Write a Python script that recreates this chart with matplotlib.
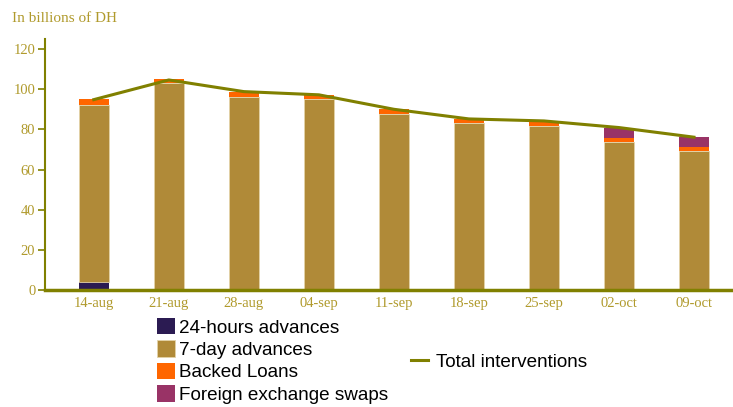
import matplotlib.pyplot as plt
from matplotlib.patches import Patch
from matplotlib.lines import Line2D
import numpy as np

# weekly liquidity injections, billions of DH
dates = ["14-aug", "21-aug", "28-aug", "04-sep", "11-sep", "18-sep", "25-sep", "02-oct", "09-oct"]
adv_24h = [4.2, 0, 0, 0, 0, 0, 0, 0, 0]
adv_7d = [88.1, 103.0, 96.3, 95.0, 87.8, 83.1, 81.9, 73.6, 69.3]
backed_loans = [2.6, 1.9, 2.5, 2.2, 2.2, 2.1, 2.3, 2.3, 2.0]
fx_swaps = [0, 0, 0, 0, 0, 0, 0, 5.0, 4.8]
total = [94.8, 104.6, 98.8, 97.2, 90.0, 85.2, 84.2, 80.9, 76.1]

c_24h = "#2b1b52"
c_7d = "#b08a38"
c_bl = "#ff6600"
c_fx = "#993366"
olive = "#808000"
txt = "#b09a2c"

fig = plt.figure(figsize=(7.33, 4.07), dpi=100)
ax = fig.add_axes([45 / 733, 1 - 290 / 407, 1 - 45 / 733, (290 - 39) / 407])

x = np.arange(len(dates))
w = 0.4
b1 = np.array(adv_24h)
b2 = b1 + np.array(adv_7d)
b3 = b2 + np.array(backed_loans)
ax.bar(x, adv_24h, w, color=c_24h, linewidth=0)
ax.bar(x, adv_7d, w, bottom=b1, color=c_7d, edgecolor="#e3d3a8", linewidth=0.6)
ax.bar(x, backed_loans, w, bottom=b2, color=c_bl, linewidth=0)
ax.bar(x, fx_swaps, w, bottom=b3, color=c_fx, linewidth=0)
ax.plot(x, total, color=olive, linewidth=2.2, zorder=5)

ax.set_xlim(-0.65, 8.52)
ax.set_ylim(0, 125)
ax.set_yticks(range(0, 121, 20))
ax.set_xticks(x)
ax.set_xticklabels(dates)

for s in ["top", "right"]:
    ax.spines[s].set_visible(False)
ax.spines["left"].set_color(olive)
ax.spines["left"].set_linewidth(1.5)
ax.spines["bottom"].set_color(olive)
ax.spines["bottom"].set_linewidth(2.5)
ax.tick_params(axis="y", colors=olive, length=5, width=1.2, labelcolor=txt, labelsize=10.5, pad=2)
ax.tick_params(axis="x", length=0, labelcolor=txt, labelsize=10.5, pad=5)
for lab in ax.get_xticklabels() + ax.get_yticklabels():
    lab.set_family("Liberation Serif")

fig.text(12 / 733, 1 - 19 / 407, "In billions of DH", color=txt, fontsize=11,
         family="Liberation Serif", va="center", ha="left")

handles = [Patch(facecolor=c_24h),
           Patch(facecolor=c_7d, edgecolor="#e3d3a8", linewidth=0.6),
           Patch(facecolor=c_bl),
           Patch(facecolor=c_fx)]
labels = ["24-hours advances", "7-day advances", "Backed Loans", "Foreign exchange swaps"]
leg1 = fig.legend(handles, labels, loc="upper left", bbox_to_anchor=(157 / 733, 1 - 318 / 407),
                  frameon=False, borderpad=0, borderaxespad=0, handlelength=0.95, handleheight=0.95,
                  handletextpad=0.22, labelspacing=0.2, prop={"family": "Liberation Sans", "size": 13.6})
leg2 = fig.legend([Line2D([0], [0], color=olive, linewidth=2.2)], ["Total interventions"],
                  loc="center left", bbox_to_anchor=(411 / 733, 1 - 362 / 407), frameon=False,
                  borderpad=0, borderaxespad=0, handlelength=0.9, handletextpad=0.4,
                  prop={"family": "Liberation Sans", "size": 13.6})

fig.savefig("out.png", dpi=100)
